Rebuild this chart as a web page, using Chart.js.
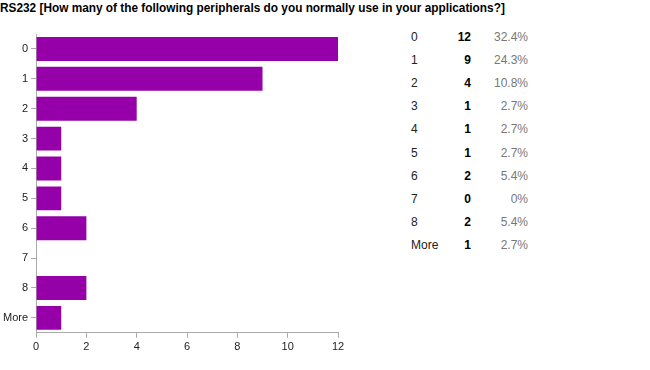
<!DOCTYPE html>
<html>
<head>
<meta charset="utf-8">
<script src="https://cdn.jsdelivr.net/npm/chart.js@4/dist/chart.umd.min.js"></script>
<style>
    body { margin: 0; background: #fff; width: 650px; height: 370px; overflow: hidden; position: relative; font-family: Arial, "Liberation Sans", sans-serif; }
    #title { position: absolute; left: 0; top: 0; font-weight: bold; font-size: 13px; line-height: 16px; color: #000; white-space: nowrap; transform: scaleX(0.91); transform-origin: 0 0; }
    #chart-box { position: absolute; left: 0; top: 0; width: 350px; height: 370px; }
    .cell { position: absolute; font-size: 12px; line-height: 14px; white-space: nowrap; }
    .lbl { left: 411px; color: #222; }
    .cnt { right: 179px; font-weight: bold; color: #000; text-align: right; }
    .pct { right: 122px; color: #777; text-align: right; }
</style>
</head>
<body>
<div id="title">RS232 [How many of the following peripherals do you normally use in your applications?]</div>
<div id="chart-box"><canvas id="myChart"></canvas></div>
<div id="summary"></div>
<script>
var categories = ['0', '1', '2', '3', '4', '5', '6', '7', '8', 'More'];
var counts = [12, 9, 4, 1, 1, 1, 2, 0, 2, 1];
var percents = ['32.4%', '24.3%', '10.8%', '2.7%', '2.7%', '2.7%', '5.4%', '0%', '5.4%', '2.7%'];
var xTicks = [0, 2, 4, 6, 8, 10, 12];

window.onload = main;

function main() {
    build_summary();
    draw_chart();
}

// таблица справа: категория, число, процент
function build_summary() {
    var box = document.getElementById('summary');
    for (var i = 0; i < categories.length; i++) {
        var top = 36.5 + 23.2 * i - 7;
        add_cell(box, 'cell lbl', categories[i], top);
        add_cell(box, 'cell cnt', counts[i], top);
        add_cell(box, 'cell pct', percents[i], top);
    }
}

function add_cell(box, cls, text, top) {
    var el = document.createElement('div');
    el.className = cls;
    el.style.top = top + 'px';
    el.textContent = text;
    box.appendChild(el);
}

function draw_chart() {
    var ctx = document.getElementById('myChart').getContext('2d');
    var tickFont = { family: 'Arial, "Liberation Sans", sans-serif', size: 11 };
    new Chart(ctx, {
        type: 'bar',
        data: {
            labels: categories,
            datasets: [{
                data: counts,
                backgroundColor: '#9500a8',
                borderWidth: 0,
                barPercentage: 0.8,
                categoryPercentage: 1.0
            }]
        },
        options: {
            indexAxis: 'y',
            responsive: true,
            maintainAspectRatio: false,
            animation: false,
            layout: { padding: { top: 34, right: 12, bottom: 13, left: 0 } },
            plugins: {
                legend: { display: false },
                tooltip: { enabled: false }
            },
            scales: {
                x: {
                    min: 0,
                    max: 12,
                    afterBuildTicks: function(axis) {
                        axis.ticks = xTicks.map(function(v) { return { value: v }; });
                    },
                    ticks: { font: tickFont, color: '#222', padding: 3, maxRotation: 0 },
                    grid: { drawOnChartArea: false, tickLength: 5, tickColor: '#aaa' },
                    border: { color: '#aaa' }
                },
                y: {
                    offset: true,
                    ticks: { font: tickFont, color: '#222', padding: 3 },
                    grid: { drawOnChartArea: false, offset: false, tickLength: 5, tickColor: '#aaa' },
                    border: { color: '#aaa' }
                }
            }
        }
    });
}
</script>
</body>
</html>
